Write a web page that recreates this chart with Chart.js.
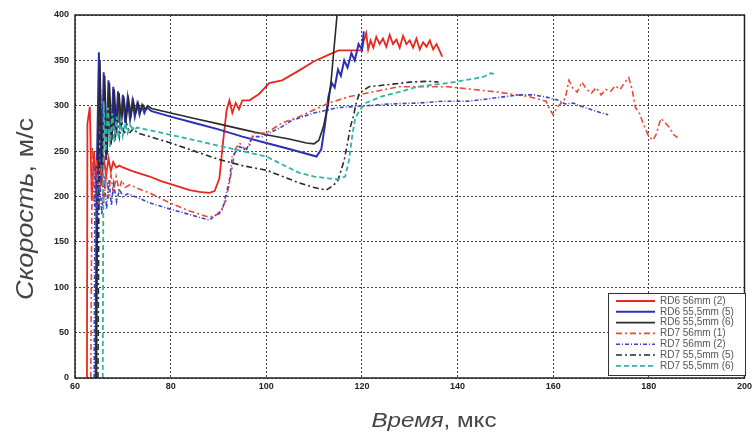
<!DOCTYPE html>
<html>
  <head>
    <title>Скорость / Время</title>
    <style>
      html, body { margin: 0; padding: 0; background: #fff; }
      #wrap { position: relative; width: 755px; height: 438px; }
    </style>
  </head>
  <body>
    <script src="https://cdn.jsdelivr.net/npm/chart.js@4.4.0/dist/chart.umd.min.js"></script>

    <div id="wrap"><canvas id="speedChart" width="755" height="438"></canvas></div>

    <script>
      // series labels (legend)
      const labels = ["RD6 56mm (2)", "RD6 55,5mm (5)", "RD6 55,5mm (6)", "RD7 56mm (1)", "RD7 56mm (2)", "RD7 55,5mm (5)", "RD7 55,5mm (6)"];

      // RD6 56mm (2) - time (мкс), speed (м/с)
      const rd6_56_2_t = [62.5, 62.6, 63.1, 63.5, 64.0, 64.5, 65.0, 65.5, 66.0, 66.5, 67.0, 67.5, 68.0, 68.6, 69.3, 70, 72, 75.6, 78, 81, 84, 86, 88.1, 89.2, 90.2, 91, 91.7, 92.3, 92.9, 93.6, 94.3, 95, 96.5, 98.5, 100.6, 103.3, 106.9, 110, 113.8, 115.2, 120, 120.4, 120.9, 121.3, 121.8, 122.4, 123, 123.7, 124.4, 125.1, 125.8, 126.5, 127.2, 127.9, 128.6, 129.3, 130, 130.7, 131.4, 132.1, 132.8, 133.5, 134.2, 134.9, 135.6, 136.3, 136.8];
      const rd6_56_2_v = [0, 280, 299, 196, 250, 202, 248, 212, 245, 222, 242, 228, 238, 232, 234, 232, 228, 222, 217, 212, 207, 205, 204, 206, 220, 262, 295, 306, 292, 303, 296, 306, 306, 313, 325, 328, 339, 349, 358, 361, 361, 372, 380, 362, 372, 364, 376, 368, 374, 365, 378, 368, 373, 364, 377, 368, 372, 364, 374, 362, 370, 365, 372, 362, 368, 360, 354];

      // RD6 55,5mm (5)
      const rd6_555_5_t = [64.3, 64.5, 65.0, 65.5, 66.0, 66.5, 67.0, 67.5, 68.0, 68.5, 69.0, 69.5, 70.0, 70.5, 71.0, 71.5, 72.0, 72.5, 73.0, 73.5, 74.0, 74.5, 75.0, 76.0, 80, 85, 90, 95, 100, 105, 110.5, 111.5, 112.3, 113, 113.7, 114.3, 115, 115.6, 116.3, 117, 117.8, 118.5, 119.3, 120, 120.4];
      const rd6_555_5_v = [0, 210, 359, 215, 337, 240, 328, 257, 321, 268, 316, 276, 312, 281, 308, 285, 305, 288, 302, 290, 300, 292, 298, 294, 288, 281, 274, 266, 259, 252, 244, 252, 280, 310, 325, 320, 340, 333, 350, 342, 358, 350, 368, 362, 382];

      // RD6 55,5mm (6)
      const rd6_555_6_t = [64.5, 64.7, 65.2, 65.7, 66.2, 66.7, 67.2, 67.7, 68.2, 68.7, 69.2, 69.7, 70.2, 70.7, 71.2, 71.7, 72.2, 72.7, 73.2, 73.7, 74.2, 74.7, 75.2, 76.0, 80, 85, 90, 95, 100, 105, 108.4, 110, 111, 112, 113, 113.6, 114.2, 114.8];
      const rd6_555_6_v = [0, 200, 350, 225, 333, 246, 325, 262, 318, 272, 314, 280, 310, 285, 307, 289, 305, 292, 303, 294, 301, 296, 300, 297, 292, 286, 280, 274, 268, 263, 259, 258, 262, 278, 303, 330, 365, 400];

      // RD7 56mm (1)
      const rd7_56_1_t = [63.3, 63.6, 64.0, 64.5, 65.0, 65.5, 66.0, 66.5, 67.0, 67.5, 68.0, 68.6, 69.2, 69.8, 70.5, 71.5, 73, 75.6, 79.8, 84, 88.1, 90.2, 91.5, 92.3, 92.9, 93.5, 94.4, 95.5, 96.5, 97.3, 100, 103.3, 106.9, 113.1, 117.3, 127.7, 138, 148.5, 155, 158.5, 159.3, 160, 160.8, 161.5, 162.5, 163.3, 164, 165, 166, 167, 168, 169, 170, 171, 172, 173, 174, 175, 175.8, 176.5, 177.2, 178, 179, 180, 180.8, 181.5, 182.5, 183.3, 184.3, 185.2, 186];
      const rd7_56_1_v = [0, 255, 190, 240, 185, 235, 192, 230, 198, 226, 203, 222, 207, 218, 210, 213, 209, 204, 193, 184, 177, 181, 195, 215, 233, 252, 259, 252, 256, 270, 270, 281, 288, 303, 310, 321, 321, 315, 310, 305, 296, 290, 298, 302, 308, 328, 320, 315, 326, 318, 314, 320, 312, 318, 316, 322, 318, 326, 331, 318, 298, 292, 278, 266, 262, 268, 286, 282, 276, 268, 265];

      // RD7 56mm (2)
      const rd7_56_2_t = [64.0, 64.2, 64.6, 65.1, 65.6, 66.1, 66.6, 67.1, 67.6, 68.1, 68.7, 69.3, 70, 71, 73, 75.6, 80, 84, 88.1, 90.8, 92.3, 92.9, 94.4, 95.8, 97.1, 99.2, 103.3, 105.4, 110, 115, 120.8, 126, 131.9, 137, 142.3, 147, 152.7, 156, 159, 161, 162.5, 164.2, 165.5, 167.3, 169.5, 171.5];
      const rd7_56_2_v = [0, 235, 175, 228, 180, 222, 186, 218, 190, 214, 194, 208, 200, 203, 199, 193, 186, 180, 174, 185, 218, 244, 255, 251, 266, 266, 277, 284, 292, 298, 300, 302, 303, 305, 305, 308, 312, 312, 309, 306, 302, 303, 300, 297, 293, 290];

      // RD7 55,5mm (5)
      const rd7_555_5_t = [64.8, 65.0, 65.3, 65.7, 66.2, 66.6, 67.1, 67.5, 68.0, 68.4, 68.9, 69.3, 69.8, 70.3, 70.8, 71.4, 72.2, 73, 75.6, 80, 85, 90, 95, 100, 106.9, 110, 112.5, 114, 115, 116.3, 117, 117.6, 118.2, 118.8, 119.5, 121.5, 125, 130, 134, 136];
      const rd7_555_5_v = [0, 200, 318, 245, 305, 252, 298, 258, 292, 262, 287, 266, 283, 268, 280, 270, 275, 270, 266, 259, 250, 241, 234, 229, 215, 210, 207, 212, 218, 240, 259, 277, 288, 303, 314, 321, 323, 326, 327, 326];

      // RD7 55,5mm (6)
      const rd7_555_6_t = [65.8, 66.0, 66.4, 66.9, 67.3, 67.8, 68.2, 68.7, 69.1, 69.6, 70.0, 70.5, 71.0, 71.6, 72.3, 73, 75.6, 80, 85, 90, 95, 100, 106.9, 110, 113, 115, 116.5, 117.3, 118, 118.6, 119.5, 120.8, 124, 127.7, 131.6, 138, 143.6, 145.5, 147, 147.9];
      const rd7_555_6_v = [0, 305, 250, 298, 255, 292, 260, 288, 264, 284, 267, 281, 270, 278, 273, 276, 273, 268, 262, 256, 250, 244, 226, 222, 220, 219, 222, 240, 268, 286, 295, 303, 310, 315, 321, 325, 330, 332, 336, 334];

      const times = [rd6_56_2_t, rd6_555_5_t, rd6_555_6_t, rd7_56_1_t, rd7_56_2_t, rd7_555_5_t, rd7_555_6_t];
      const speeds = [rd6_56_2_v, rd6_555_5_v, rd6_555_6_v, rd7_56_1_v, rd7_56_2_v, rd7_555_5_v, rd7_555_6_v];
      const colors = ["#e8281e", "#2b2fb8", "#2a2a2a", "#ec4a34", "#3a46c8", "#2a2a2a", "#2fb5a8"];
      const dashes = [[], [], [], [6, 3, 2, 3], [4, 2, 1, 2], [6, 3, 2, 3], [5, 3]];
      const widths = [1.8, 2, 1.6, 1.6, 1.6, 1.6, 1.8];

      const FONT = "'Liberation Sans', Arial, sans-serif";

      // draw "italic word + regular units", stretched to a given length
      function mixedText(c, x, y, a1, a2, size, len) {
        c.font = "italic " + size + "px " + FONT;
        const w1 = c.measureText(a1).width;
        c.font = size + "px " + FONT;
        const w2 = c.measureText(a2).width;
        const k = len / (w1 + w2);
        c.save();
        c.translate(x - len / 2, y);
        c.scale(k, 1);
        c.font = "italic " + size + "px " + FONT;
        c.fillText(a1, 0, 0);
        c.font = size + "px " + FONT;
        c.fillText(a2, w1, 0);
        c.restore();
      }

      // frame, axis titles and legend drawn on top
      const decor = {
        id: "decor",
        afterDatasetsDraw(chart) {
          const c = chart.ctx, a = chart.chartArea;
          c.save();
          c.strokeStyle = "#222";
          c.lineWidth = 1.5;
          c.strokeRect(a.left, a.top, a.right - a.left, a.bottom - a.top);

          // legend box
          const bx = 608, by = 293, bw = 137, bh = 82;
          c.fillStyle = "#fff";
          c.fillRect(bx, by, bw, bh);
          c.lineWidth = 1;
          c.strokeStyle = "#333";
          c.strokeRect(bx + 0.5, by + 0.5, bw, bh);
          c.font = "10px " + FONT;
          c.textBaseline = "middle";
          chart.data.datasets.slice().reverse().forEach((ds, i) => {
            const y = by + 8 + i * 10.8;
            c.strokeStyle = ds.borderColor;
            c.lineWidth = ds.borderWidth;
            c.setLineDash(ds.borderDash || []);
            c.beginPath();
            c.moveTo(bx + 8, y);
            c.lineTo(bx + 47, y);
            c.stroke();
            c.setLineDash([]);
            c.fillStyle = "#555";
            c.fillText(ds.label, bx + 52, y);
          });

          // axis titles
          c.fillStyle = "#444";
          c.textBaseline = "alphabetic";
          mixedText(c, 434, 427, "Время", ", мкс", 20, 125);
          c.translate(33, 209);
          c.rotate(-Math.PI / 2);
          mixedText(c, 0, 0, "Скорость", ", м/с", 24, 182);
          c.restore();
        }
      };

      const ctx = document.getElementById("speedChart").getContext("2d");

      const chart = new Chart(ctx, {
        type: "scatter",
        data: {
          // reversed so that RD6 curves are painted on top
          datasets: labels.map((name, i) => ({
            label: name,
            data: times[i].map((t, k) => ({ x: t, y: speeds[i][k] })),
            showLine: true,
            borderColor: colors[i],
            backgroundColor: colors[i],
            borderWidth: widths[i],
            borderDash: dashes[i],
            pointRadius: 0,
            tension: 0
          })).reverse()
        },
        options: {
          responsive: false,
          animation: false,
          layout: { padding: { left: 0, right: 8, top: 15, bottom: 0 } },
          plugins: { legend: { display: false }, tooltip: { enabled: false } },
          scales: {
            x: {
              type: "linear",
              min: 60,
              max: 200,
              afterFit: (s) => { s.height = 60; },
              ticks: { stepSize: 20, padding: 3, color: "#222", font: { family: FONT, size: 9, weight: "bold" } },
              grid: { color: "#444", lineWidth: 1, drawTicks: false },
              border: { display: false, dash: [2, 2] }
            },
            y: {
              min: 0,
              max: 400,
              afterFit: (s) => { s.width = 75; },
              ticks: { stepSize: 50, padding: 6, color: "#222", font: { family: FONT, size: 9, weight: "bold" } },
              grid: { color: "#444", lineWidth: 1, drawTicks: false },
              border: { display: false, dash: [2, 2] }
            }
          }
        },
        plugins: [decor]
      });
    </script>
  </body>
</html>
